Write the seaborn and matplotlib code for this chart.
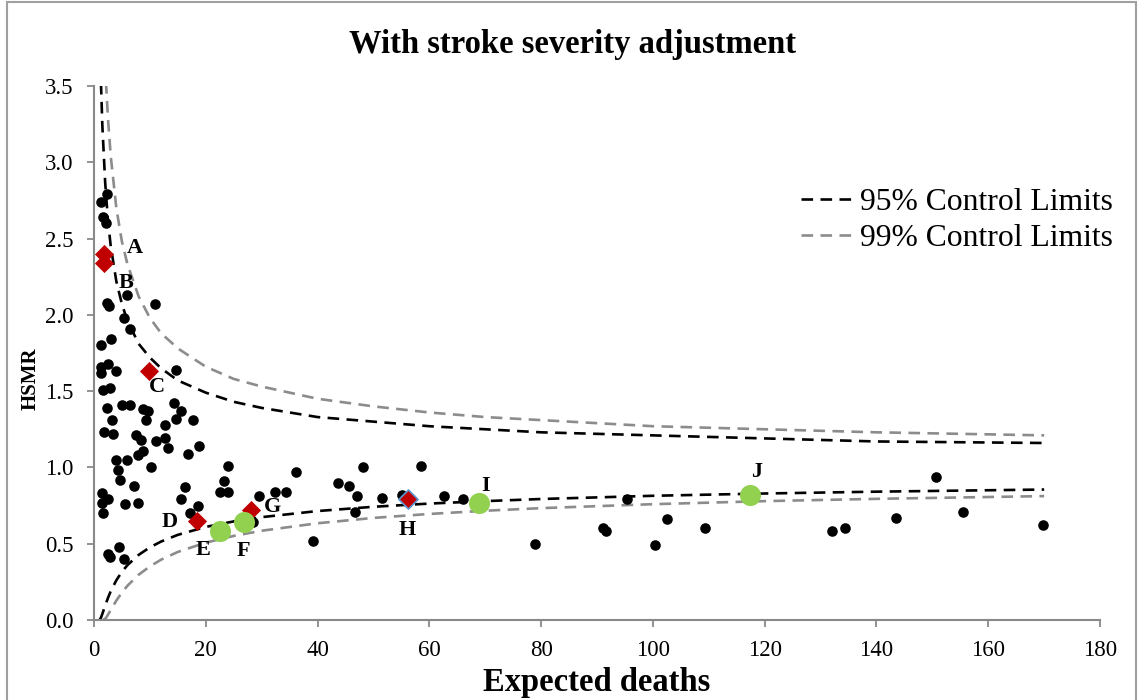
import numpy as np
import pandas as pd
import seaborn as sns
import matplotlib.pyplot as plt
from matplotlib.patches import Rectangle

# hospitals (expected deaths, HSMR)
exp_deaths = [2.3, 1.3, 1.6, 2.2, 5.9, 10.9, 2.3, 2.7, 5.4, 6.4, 1.3, 3.0, 1.3, 2.5, 3.9,
              1.3, 1.6, 2.9, 14.7, 2.3, 5.0, 6.4, 8.8, 9.7, 9.3, 3.2, 14.3, 15.6, 14.7, 17.7,
              12.7, 1.8, 3.4, 7.5, 8.4, 8.8, 7.9, 11.1, 12.7, 13.2, 16.8, 18.8, 3.9, 5.9, 4.3,
              4.7, 10.2, 7.2, 16.3, 1.4, 2.5, 1.4, 1.6, 5.6, 7.9, 15.6, 18.6, 17.2, 2.5, 4.5,
              2.9, 5.4, 24.0, 23.3, 22.5, 24.0, 36.1, 29.5, 32.4, 34.4, 43.7, 28.4, 39.2, 48.1,
              58.5, 45.6, 47.1, 51.5, 55.1, 46.7, 62.6, 66.0, 78.9, 95.3, 91.0, 91.6, 102.6,
              100.4, 109.4, 132.0, 134.4, 143.5, 150.7, 155.4, 169.8]
hsmr = [2.79, 2.74, 2.64, 2.60, 2.13, 2.07, 2.08, 2.06, 1.98, 1.91, 1.80, 1.84, 1.66, 1.68, 1.63,
        1.62, 1.51, 1.52, 1.64, 1.39, 1.41, 1.41, 1.38, 1.37, 1.31, 1.31, 1.42, 1.37, 1.32, 1.31,
        1.28, 1.23, 1.22, 1.21, 1.18, 1.11, 1.08, 1.17, 1.19, 1.13, 1.09, 1.14, 1.05, 1.05, 0.98,
        0.92, 1.00, 0.88, 0.87, 0.83, 0.79, 0.77, 0.70, 0.76, 0.77, 0.79, 0.75, 0.70, 0.43, 0.48,
        0.41, 0.40, 1.01, 0.91, 0.84, 0.84, 0.97, 0.81, 0.84, 0.84, 0.90, 0.64, 0.52, 1.00,
        1.01, 0.88, 0.81, 0.80, 0.82, 0.71, 0.81, 0.79, 0.50, 0.79, 0.60, 0.58, 0.66,
        0.49, 0.60, 0.58, 0.60, 0.67, 0.94, 0.71, 0.62]

# highlighted hospitals
red_names = ['A', 'B', 'C', 'D', 'G', 'H']
red_x = [1.8, 1.8, 9.8, 18.4, 28.1, 56.2]
red_y = [2.40, 2.34, 1.63, 0.65, 0.72, 0.79]
green_names = ['E', 'F', 'I', 'J']
green_x = [22.5, 26.8, 68.9, 117.4]
green_y = [0.58, 0.64, 0.77, 0.82]

label_names = ['A', 'B', 'C', 'D', 'E', 'F', 'G', 'H', 'I', 'J']
label_x = [7.3, 5.8, 11.2, 13.6, 19.6, 26.8, 32.0, 56.1, 70.0, 118.6]
label_y = [2.44, 2.21, 1.53, 0.64, 0.46, 0.45, 0.74, 0.59, 0.88, 0.97]

# control limits
x95_up = [1.25, 1.5, 2, 2.5, 3, 4, 5, 6, 8, 10, 12, 15, 20, 25, 30, 40, 50, 60, 70, 80, 100, 120, 140, 170]
y95_up = [3.52, 3.24, 2.87, 2.62, 2.45, 2.22, 2.07, 1.96, 1.81, 1.72, 1.65, 1.57, 1.49, 1.43, 1.39,
          1.33, 1.30, 1.27, 1.25, 1.23, 1.21, 1.19, 1.17, 1.16]
x95_lo = [1.0, 1.25, 1.5, 2, 2.5, 3, 4, 5, 6, 8, 10, 12, 15, 20, 25, 30, 40, 50, 60, 70, 80, 100, 120, 140, 170]
y95_lo = [0.0, 0.015, 0.04, 0.094, 0.144, 0.189, 0.26, 0.316, 0.36, 0.427, 0.476, 0.514, 0.558, 0.61,
          0.646, 0.674, 0.714, 0.742, 0.763, 0.779, 0.793, 0.814, 0.829, 0.841, 0.855]
x99_up = [2.0, 2.2, 2.5, 3, 4, 5, 6, 8, 10, 12, 15, 20, 25, 30, 40, 50, 60, 70, 80, 100, 120, 140, 170]
y99_up = [3.65, 3.49, 3.29, 3.04, 2.70, 2.48, 2.33, 2.12, 1.98, 1.88, 1.78, 1.66, 1.58, 1.53, 1.45,
          1.40, 1.36, 1.33, 1.31, 1.27, 1.25, 1.23, 1.21]
x99_lo = [1.66, 2.0, 2.2, 2.5, 3, 4, 5, 6, 8, 10, 12, 15, 20, 25, 30, 40, 50, 60, 70, 80, 100, 120, 140, 170]
y99_lo = [0.0, 0.008, 0.017, 0.034, 0.066, 0.127, 0.18, 0.225, 0.297, 0.351, 0.395, 0.446, 0.507,
          0.551, 0.585, 0.634, 0.669, 0.695, 0.716, 0.733, 0.759, 0.779, 0.794, 0.812]

sns.set_style('white')
plt.rcParams['font.family'] = ['Liberation Serif', 'DejaVu Serif']
plt.rcParams['text.color'] = 'black'
plt.rcParams['axes.labelcolor'] = 'black'
plt.rcParams['xtick.labelcolor'] = 'black'
plt.rcParams['ytick.labelcolor'] = 'black'

fig = plt.figure(figsize=(11.39, 7.0), dpi=100)
ax = fig.add_axes([0.0825, 0.1143, 0.8833, 0.7629])

dash = (0, (4.4, 2.8))
grey = '#8c8c8c'
sns.lineplot(x=x95_up, y=y95_up, ax=ax, color='black', lw=1.9, linestyle=dash, sort=False,
             label='95% Control Limits', zorder=2)
sns.lineplot(x=x95_lo, y=y95_lo, ax=ax, color='black', lw=1.9, linestyle=dash, sort=False, zorder=2)
sns.lineplot(x=x99_up, y=y99_up, ax=ax, color=grey, lw=1.9, linestyle=dash, sort=False,
             label='99% Control Limits', zorder=2)
sns.lineplot(x=x99_lo, y=y99_lo, ax=ax, color=grey, lw=1.9, linestyle=dash, sort=False, zorder=2)

sns.scatterplot(x=exp_deaths, y=hsmr, ax=ax, color='black', s=58, linewidth=0, zorder=3, legend=False)
sns.scatterplot(x=red_x[:5], y=red_y[:5], ax=ax, marker='D', color='#c00000', s=95, linewidth=0,
                zorder=4, legend=False)
sns.scatterplot(x=red_x[5:], y=red_y[5:], ax=ax, marker='D', color='#c00000', s=95, linewidth=1.2,
                edgecolor='#5b9bd5', zorder=4, legend=False)
sns.scatterplot(x=green_x, y=green_y, ax=ax, color='#92d050', s=230, linewidth=0, zorder=4, legend=False)

for name, lx, ly in zip(label_names, label_x, label_y):
    ax.text(lx, ly, name, fontsize=16, fontweight='bold', ha='center', va='center', zorder=5)

ax.set_xlim(0, 180)
ax.set_ylim(0, 3.5)
ax.set_xticks(np.arange(0, 181, 20))
ax.set_yticks(np.arange(0, 3.51, 0.5))
ax.set_yticklabels([f'{v:.1f}' for v in np.arange(0, 3.51, 0.5)])
ax.tick_params(axis='both', labelsize=16.5, direction='out', length=5, width=1.3,
               color='#898989', pad=9.5, left=True, bottom=True)
for side in ['top', 'right']:
    ax.spines[side].set_visible(False)
for side in ['left', 'bottom']:
    ax.spines[side].set_color('#898989')
    ax.spines[side].set_linewidth(1.5)

ax.set_xlabel('Expected deaths', fontsize=23.5, fontweight='bold', labelpad=4)
ax.set_ylabel('HSMR', fontsize=15, fontweight='bold')
ax.yaxis.set_label_coords(-0.053, 0.451)
fig.text(0.503, 0.936, 'With stroke severity adjustment', fontsize=23.5, fontweight='bold',
         ha='center', va='center')

ax.legend(loc='upper left', bbox_to_anchor=(0.703, 0.731), bbox_transform=fig.transFigure,
          frameon=False, fontsize=22.8, handlelength=1.65, handletextpad=0.22,
          labelspacing=0.2, borderpad=0, borderaxespad=0)

fig.patches.append(Rectangle((7 / 1139, -0.05), 1129 / 1139, 1.05 - 1.5 / 700,
                             transform=fig.transFigure, fill=False, edgecolor='#a0a0a0', lw=1.5))

fig.savefig('out.png', dpi=100)
